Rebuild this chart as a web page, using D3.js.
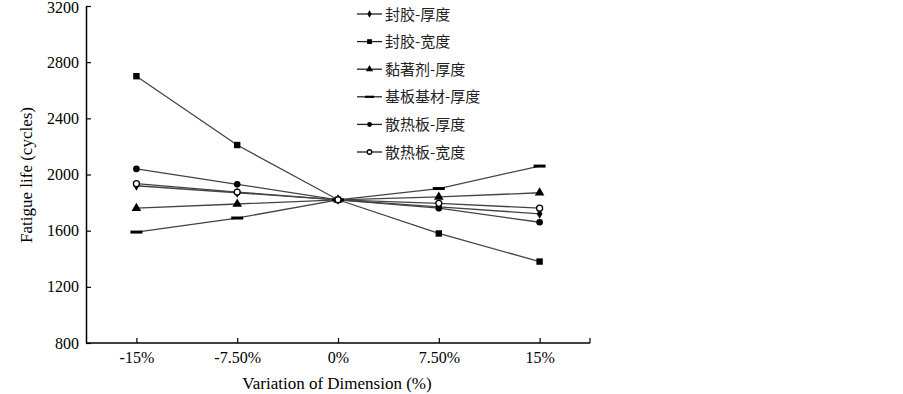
<!DOCTYPE html>
<html><head><meta charset="utf-8">
<script src="https://cdn.jsdelivr.net/npm/d3@7"></script>
<style>body{margin:0;background:#fff}svg{display:block}</style>
</head><body>
<svg id="c" width="903" height="394"></svg>
<script>
const categories = ["-15%", "-7.50%", "0%", "7.50%", "15%"];
const seriesNames = ["封胶-厚度", "封胶-宽度", "黏著剂-厚度", "基板基材-厚度", "散热板-厚度", "散热板-宽度"];
const seriesMarkers = ["diamond", "square", "triangle", "dash", "circle", "opencircle"];
const sFengJiaoHou = [1920, 1870, 1820, 1770, 1720];
const sFengJiaoKuan = [2700, 2210, 1820, 1580, 1380];
const sNianZhuoJi = [1760, 1790, 1820, 1840, 1870];
const sJiBan = [1590, 1690, 1820, 1900, 2060];
const sSanReHou = [2040, 1930, 1820, 1760, 1660];
const sSanReKuan = [1935, 1875, 1820, 1795, 1760];
const seriesValues = [sFengJiaoHou, sFengJiaoKuan, sNianZhuoJi, sJiBan, sSanReHou, sSanReKuan];
const yTicks = [800, 1200, 1600, 2000, 2400, 2800, 3200];

const svg = d3.select("#c");
const x = d3.scalePoint().domain(categories).range([86, 590]).padding(0.5);
const y = d3.scaleLinear().domain([800, 3200]).range([343, 6]);
const serif = "'Liberation Serif','Times New Roman',serif";

// axes
const yAxis = d3.axisLeft(y).tickValues(yTicks).tickFormat(d3.format("d")).tickSizeInner(-5).tickSizeOuter(0).tickPadding(7);
const gy = svg.append("g").attr("transform","translate(86,0)").call(yAxis);
gy.select(".domain").attr("stroke","#000").attr("stroke-width",1.5);
gy.selectAll(".tick line").attr("stroke","#000").attr("stroke-width",1.2);
gy.selectAll("text").attr("font-family",serif).attr("font-size",16).attr("fill","#000");
gy.selectAll(".tick text").filter(d=>d===3200).attr("dy","0.42em");

const xAxis = d3.axisBottom(x).tickSizeInner(-5).tickSizeOuter(0).tickPadding(9);
const gx = svg.append("g").attr("transform","translate(0,343)").call(xAxis);
gx.select(".domain").attr("stroke","#000").attr("stroke-width",1.5).attr("d","M86,0H590");
gx.selectAll(".tick line").attr("stroke","#000").attr("stroke-width",1.2);
gx.selectAll("text").attr("font-family",serif).attr("font-size",16).attr("fill","#000");
svg.append("line").attr("x1",590).attr("x2",590).attr("y1",343).attr("y2",338).attr("stroke","#000").attr("stroke-width",1.2);

svg.append("text").attr("x",337).attr("y",389).attr("text-anchor","middle")
  .attr("font-family",serif).attr("font-size",17).text("Variation of Dimension (%)");
svg.append("text").attr("transform","translate(32,175) rotate(-90)").attr("text-anchor","middle")
  .attr("font-family",serif).attr("font-size",17).text("Fatigue life (cycles)");

function marker(g, type, cx, cy, s) {
  s = s || 1;
  if (type === "diamond") g.append("path").attr("d", d3.symbol(d3.symbolDiamond, 28*s*s)()).attr("transform",`translate(${cx},${cy})`).attr("fill","#000");
  else if (type === "square") g.append("rect").attr("x",cx-3.2*s).attr("y",cy-3.2*s).attr("width",6.4*s).attr("height",6.4*s).attr("fill","#000");
  else if (type === "triangle") g.append("path").attr("d", d3.symbol(d3.symbolTriangle, 40*s*s)()).attr("transform",`translate(${cx},${cy})`).attr("fill","#000");
  else if (type === "dash") g.append("rect").attr("x",cx-6*s).attr("y",cy-1.5*s).attr("width",12*s).attr("height",3*s).attr("fill","#000");
  else if (type === "circle") g.append("circle").attr("cx",cx).attr("cy",cy).attr("r",3.3*s).attr("fill","#000");
  else if (type === "opencircle") g.append("circle").attr("cx",cx).attr("cy",cy).attr("r",3*s).attr("fill","#fff").attr("stroke","#000").attr("stroke-width",1.3);
}

const line = d3.line().x((d,i)=>x(categories[i])).y(d=>y(d));
seriesValues.forEach((vals, si) => {
  svg.append("path").attr("d", line(vals)).attr("fill","none").attr("stroke","#444").attr("stroke-width",1.3);
});
seriesValues.forEach((vals, si) => {
  const g = svg.append("g");
  vals.forEach((v,i)=> marker(g, seriesMarkers[si], x(categories[i]), y(v)));
});

// legend
const lg = svg.append("g");
seriesNames.forEach((n, i) => {
  const ly = 14 + i*27.6;
  lg.append("line").attr("x1",357).attr("x2",382).attr("y1",ly).attr("y2",ly).attr("stroke","#222").attr("stroke-width",1.3);
  marker(lg, seriesMarkers[i], 369.5, ly, 0.75);
  lg.append("text").attr("x",385).attr("y",ly+5.5).attr("font-family","'Noto Sans CJK SC',sans-serif")
    .attr("font-size",15).attr("fill","#222").text(n);
});
</script>
</body></html>
